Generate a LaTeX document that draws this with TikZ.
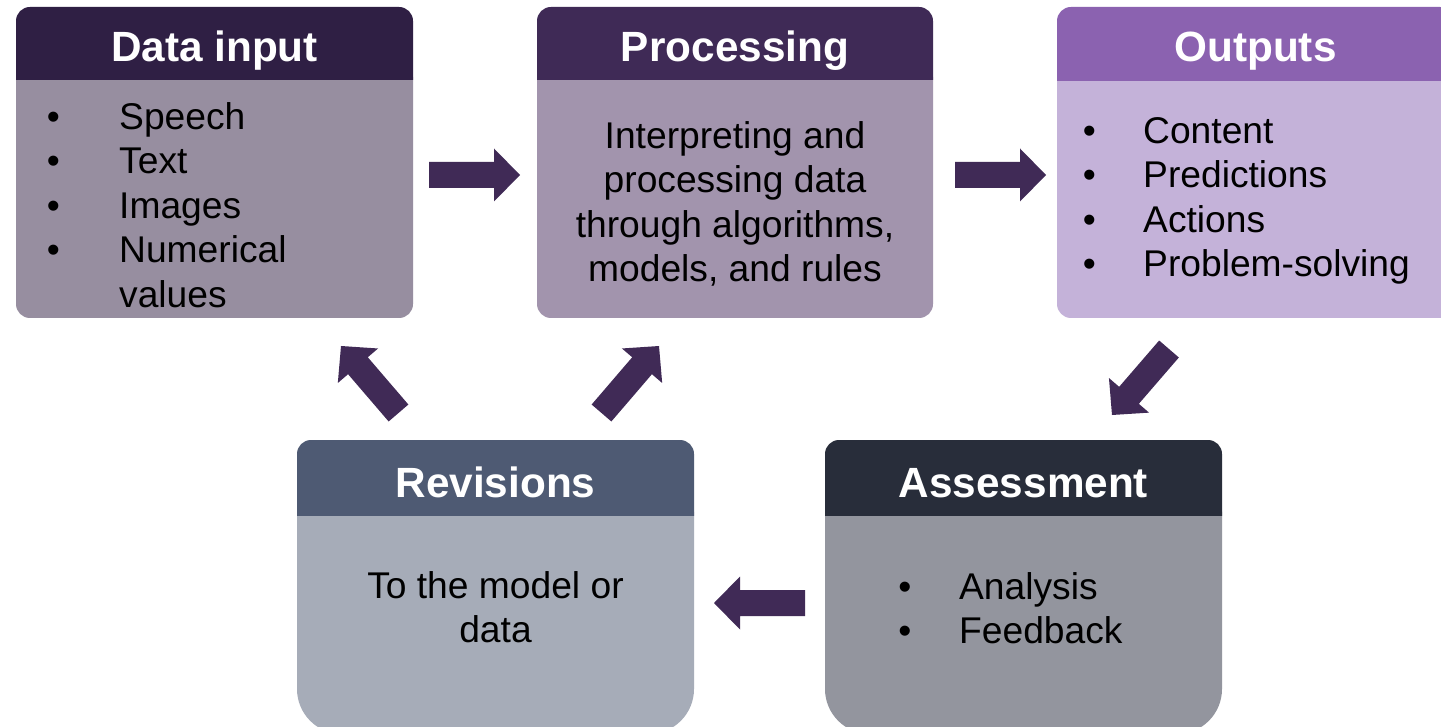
\documentclass[tikz,border=0pt]{standalone}
\usepackage{fontspec}
\setmainfont{Liberation Sans}
\usetikzlibrary{calc}
\definecolor{dihead}{HTML}{2F1F44}
\definecolor{dibody}{HTML}{978EA0}
\definecolor{prhead}{HTML}{3F2A56}
\definecolor{prbody}{HTML}{A294AD}
\definecolor{ouhead}{HTML}{8B62B0}
\definecolor{oubody}{HTML}{C4B2D9}
\definecolor{rehead}{HTML}{4E5A73}
\definecolor{rebody}{HTML}{A6ACB8}
\definecolor{ashead}{HTML}{282D3A}
\definecolor{asbody}{HTML}{93959E}
\definecolor{arrowcol}{HTML}{402A56}
% box: x1 y1 x2 y2 yheader rtop rbottom headcol bodycol
\newcommand\panel[9]{%
  \fill[#9, rounded corners=#7pt] (#1,#5-#7-3) rectangle (#3,#4);
  \begin{scope}
    \clip (#1,#2) rectangle (#3,#5);
    \fill[#8, rounded corners=#6pt] (#1,#2) rectangle (#3,#5+#6+5);
  \end{scope}}
% block arrow from coordinate #1 (tail) to coordinate #2 (tip)
\newcommand\blockarr[2]{%
  \coordinate (#1h) at ($(#2)!26pt!(#1)$);
  \fill[arrowcol] ($(#1)!13pt!90:(#2)$) -- ($(#1h)!13pt!90:(#2)$) -- ($(#1h)!26.5pt!90:(#2)$)
    -- (#2) -- ($(#1h)!26.5pt!-90:(#2)$) -- ($(#1h)!13pt!-90:(#2)$) -- ($(#1)!13pt!-90:(#2)$) -- cycle;}
\newcommand\bul[1]{\llap{\textbullet\hspace{#1pt}}}
\begin{document}
\begin{tikzpicture}[x=1pt,y=-1pt,
  title/.style={font=\fontsize{42.3}{48}\selectfont\bfseries, text=white, inner sep=0pt, anchor=base},
  bodyl/.style={font=\fontsize{37.2}{44.5}\selectfont, inner sep=0pt, anchor=north west, align=left},
  bodyc/.style={font=\fontsize{37.2}{44.5}\selectfont, inner sep=0pt, anchor=north, align=center}]
\useasboundingbox (0,0) rectangle (1441,727);
\clip (0,0) rectangle (1441,727);
\fill[white] (0,0) rectangle (1441,727);

% panels
\panel{16}{7}{413}{318}{80}{14}{14}{dihead}{dibody}
\panel{537}{7}{933}{318}{80}{14}{14}{prhead}{prbody}
\panel{1057}{7}{1454}{318}{81}{14}{14}{ouhead}{oubody}
\panel{297}{440}{694}{734}{515}{14}{45}{rehead}{rebody}
\panel{825}{440}{1222}{734}{515}{14}{45}{ashead}{asbody}

% titles
\node[title] (tdi) at (214.5,62) {Data input};
\node[title] (tpr) at (735,62) {Processing};
\node[title] (tou) at (1255.5,62) {Outputs};
\node[title] (tre) at (495.5,497) {Revisions};
\node[title] (tas) at (1023.5,497) {Assessment};

% bodies
\node[bodyl] (bdi) at (119,129-31.15) {\strut\bul{59.3}Speech\\\strut\bul{59.3}Text\\\strut\bul{59.3}Images\\\strut\bul{59.3}Numerical\\\strut values};
\node[bodyc] (bpr) at (735,148-31.15) {\strut Interpreting and\\\strut processing data\\\strut through algorithms,\\\strut models, and rules};
\node[bodyl] (bou) at (1143,143-31.15) {\strut\bul{47.4}Content\\\strut\bul{47.4}Predictions\\\strut\bul{47.4}Actions\\\strut\bul{47.4}Problem-solving};
\node[bodyc] (bre) at (495.5,598-31.15) {\strut To the model or\\\strut data};
\node[bodyl] (bas) at (959,599-31.15) {\strut\bul{47.8}Analysis\\\strut\bul{47.8}Feedback};

% arrows
\coordinate (a1s) at (429,175);   \coordinate (a1e) at (520,175);
\coordinate (a2s) at (955,175);   \coordinate (a2e) at (1046,175);
\coordinate (a3s) at (1169,349);  \coordinate (a3e) at (1112,415);
\coordinate (a4s) at (805,603);   \coordinate (a4e) at (714,603);
\coordinate (a5s) at (398.5,413); \coordinate (a5e) at (341,346);
\coordinate (a6s) at (601.5,413); \coordinate (a6e) at (659,346);
\blockarr{a1s}{a1e}
\blockarr{a2s}{a2e}
\blockarr{a3s}{a3e}
\blockarr{a4s}{a4e}
\blockarr{a5s}{a5e}
\blockarr{a6s}{a6e}
\end{tikzpicture}
\end{document}
